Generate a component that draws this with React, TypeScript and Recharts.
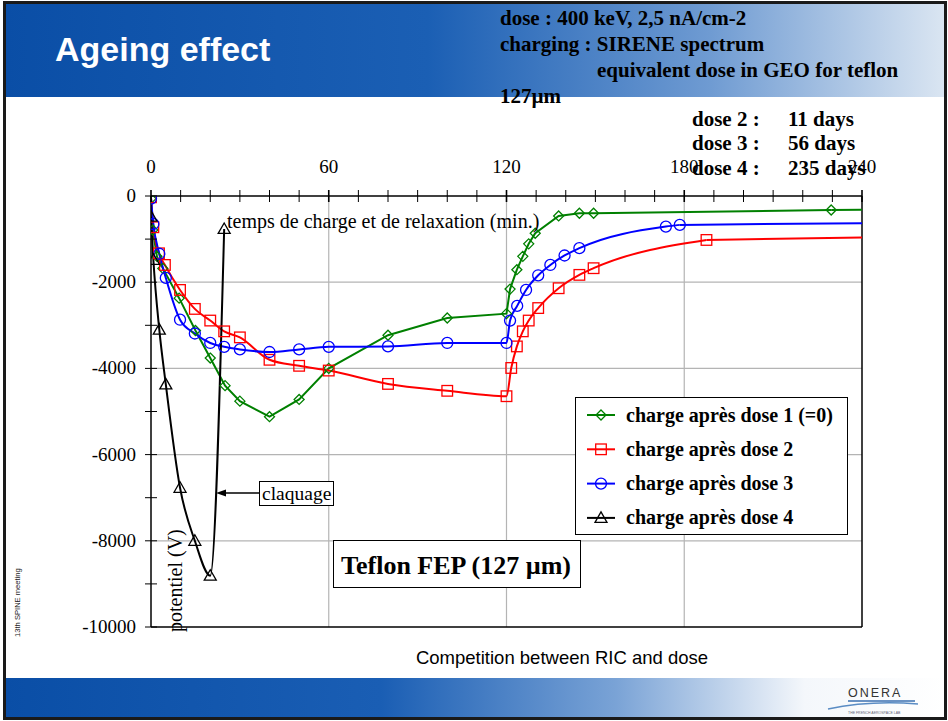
import React from 'react';
import { LineChart, Line, XAxis, YAxis, ReferenceLine, Legend } from 'recharts';

// time (min) and surface potential (V) for each irradiation dose
const dose1Time = [0, 0.6, 2, 4, 9.5, 15, 20, 25, 30, 40, 50, 60, 80, 100, 120, 121.2, 123.5, 125.5, 127.5, 129.7, 137.6, 144.6, 149.4, 229.6];
const dose1Volts = [-60, -790, -1400, -1680, -2370, -3120, -3760, -4400, -4760, -5120, -4720, -4000, -3230, -2830, -2730, -2160, -1710, -1400, -1110, -865, -463, -400, -400, -325];
const dose1TailTime = [229.6, 240];
const dose1TailVolts = [-325, -320];

const dose2Time = [0, 0.8, 2.7, 4.7, 9.8, 14.8, 20, 24.7, 30, 40, 50, 60, 80, 100, 120, 121.6, 123.5, 125.5, 127.5, 130.7, 137.6, 144.6, 149.4, 187.5];
const dose2Volts = [-30, -725, -1330, -1600, -2180, -2620, -2890, -3140, -3280, -3800, -3940, -4050, -4360, -4520, -4645, -3990, -3490, -3140, -2890, -2600, -2140, -1830, -1675, -1020];
const dose2TailTime = [187.5, 240];
const dose2TailVolts = [-1020, -965];

const dose3Time = [0, 0.8, 2.8, 5, 9.8, 14.8, 20, 24.7, 30, 40, 50, 60, 80, 100, 120, 121.2, 123.6, 126.6, 130.7, 134.8, 139.6, 144.6, 173.8, 178.5];
const dose3Volts = [-60, -650, -1340, -1900, -2870, -3190, -3410, -3500, -3560, -3620, -3560, -3500, -3490, -3410, -3410, -2890, -2550, -2180, -1840, -1600, -1380, -1210, -710, -670];
const dose3TailTime = [178.5, 240];
const dose3TailVolts = [-670, -630];

const dose4Time = [0, 0.8, 2.8, 5, 9.8, 14.8, 20, 24.7];
const dose4Volts = [-480, -1480, -3100, -4370, -6770, -8000, -8810, -765];

const seriesNames = [
  'charge après dose 1 (=0)',
  'charge après dose 2',
  'charge après dose 3',
  'charge après dose 4',
];

const timeTicks = [0, 10, 20, 30, 40, 50, 60, 70, 80, 90, 100, 110, 120, 130, 140, 150, 160, 170, 180, 190, 200, 210, 220, 230, 240];
const voltTicks = [0, -1000, -2000, -3000, -4000, -5000, -6000, -7000, -8000, -9000, -10000];
const gridTimes = [60, 120, 180];
const gridVolts = [-2000, -4000, -6000, -8000];

const toRows = (t: number[], v: number[]) => t.map((x, i) => ({ t: x, v: v[i] }));

const SERIF = '"Liberation Serif", "Times New Roman", serif';
const SANS = '"Liberation Sans", Arial, sans-serif';

const styles = [
  { color: '#008000', shape: 'diamond', curve: 'linear' },
  { color: '#ff0000', shape: 'square', curve: 'monotone' },
  { color: '#0000ff', shape: 'circle', curve: 'monotone' },
  { color: '#000000', shape: 'triangle', curve: 'monotone' },
];

function Marker({ cx, cy, color, shape }: { cx: number; cy: number; color: string; shape: string }) {
  const common = { fill: 'none', stroke: color, strokeWidth: 1.3 };
  if (shape === 'diamond') {
    const r = 5;
    return <polygon points={`${cx},${cy - r} ${cx + r},${cy} ${cx},${cy + r} ${cx - r},${cy}`} {...common} />;
  }
  if (shape === 'square') {
    const r = 5.3;
    return <rect x={cx - r} y={cy - r} width={r * 2} height={r * 2} {...common} />;
  }
  if (shape === 'circle') {
    return <circle cx={cx} cy={cy} r={5.5} {...common} />;
  }
  return <polygon points={`${cx},${cy - 6} ${cx + 6},${cy + 4.5} ${cx - 6},${cy + 4.5}`} {...common} />;
}

const dotFor = (i: number) => (p: any) => (
  <Marker key={`m-${i}-${p.index}`} cx={p.cx} cy={p.cy} color={styles[i].color} shape={styles[i].shape} />
);

const TopTick = ({ x, y, payload }: any) => {
  const major = payload.value % 60 === 0;
  return (
    <g>
      <line x1={x} x2={x} y1={y - 6} y2={y + 6} stroke="#000" strokeWidth={major ? 1.6 : 1} />
      {major && (
        <text x={x} y={y - 23} textAnchor="middle" fontFamily={SERIF} fontSize={19} fill="#000">
          {payload.value}
        </text>
      )}
    </g>
  );
};

const LeftTick = ({ x, y, payload }: any) => {
  const major = payload.value % 2000 === 0;
  return (
    <g>
      <line x1={x - 6} x2={x + 6} y1={y} y2={y} stroke="#000" strokeWidth={1} />
      {major && (
        <text x={x - 15} y={y + 6} textAnchor="end" fontFamily={SERIF} fontSize={19} fill="#000">
          {payload.value}
        </text>
      )}
    </g>
  );
};

const LegendBox = () => (
  <div
    style={{
      width: 273,
      height: 138,
      border: '1px solid #000',
      background: '#fff',
      boxSizing: 'border-box',
    }}
  >
    <svg width={271} height={136}>
      {seriesNames.map((name, i) => {
        const y = 17 + i * 34.3;
        return (
          <g key={name}>
            <line x1={11} x2={39} y1={y} y2={y} stroke={styles[i].color} strokeWidth={2} />
            <Marker cx={25} cy={y} color={styles[i].color} shape={styles[i].shape} />
            <text x={50} y={y + 6.5} fontFamily={SERIF} fontWeight="bold" fontSize={20} fill="#000">
              {name}
            </text>
          </g>
        );
      })}
    </svg>
  </div>
);

function SlideDecor() {
  return (
    <svg width={948} height={721} style={{ position: 'absolute', left: 0, top: 0, pointerEvents: 'none' }}>
      <defs>
        <linearGradient id="headBand" x1="0" y1="0" x2="1" y2="0">
          <stop offset="0%" stopColor="#0a4ea6" />
          <stop offset="45%" stopColor="#1b5fb4" />
          <stop offset="75%" stopColor="#6f9bd2" />
          <stop offset="100%" stopColor="#dbe6f2" />
        </linearGradient>
        <linearGradient id="footBand" x1="0" y1="0" x2="1" y2="0">
          <stop offset="0%" stopColor="#0a4ea6" />
          <stop offset="40%" stopColor="#1a5eb4" />
          <stop offset="65%" stopColor="#7aa3d6" />
          <stop offset="85%" stopColor="#f4f7fb" />
          <stop offset="100%" stopColor="#ffffff" />
        </linearGradient>
      </defs>
      <rect x={4} y={3} width={942} height={94} fill="url(#headBand)" />
      <rect x={4} y={678} width={942} height={40} fill="url(#footBand)" />
      <rect x={4.5} y={2.5} width={941} height={716} fill="none" stroke="#1a1a1a" strokeWidth={3} />

      <text x={55} y={61} fontFamily={SANS} fontWeight="bold" fontSize={34} fill="#fff">Ageing effect</text>
      <g fontFamily={SERIF} fontWeight="bold" fontSize={21} fill="#000">
        <text x={500} y={25}>dose : 400 keV, 2,5 nA/cm-2</text>
        <text x={500} y={51}>charging : SIRENE spectrum</text>
        <text x={597} y={77}>equivalent dose in GEO for teflon</text>
        <text x={500} y={103}>127µm</text>
        <text x={692} y={126}>dose 2 :</text>
        <text x={788} y={126}>11 days</text>
        <text x={692} y={150}>dose 3 :</text>
        <text x={788} y={150}>56 days</text>
        <text x={692} y={175}>dose 4 :</text>
        <text x={788} y={175}>235 days</text>
      </g>

      <text x={227} y={228} fontFamily={SERIF} fontSize={20} fill="#000">temps de charge et de relaxation (min.)</text>

      <rect x={259.5} y={481.5} width={74} height={24} fill="#fff" stroke="#000" strokeWidth={1} />
      <text x={262} y={500} fontFamily={SERIF} fontSize={19.5} fill="#000">claquage</text>
      <line x1={259} x2={224} y1={493} y2={493} stroke="#000" strokeWidth={1.5} />
      <polygon points="216,493 226,489.5 226,496.5" fill="#000" />

      <text
        x={0}
        y={0}
        transform="translate(182,632) rotate(-90)"
        fontFamily={SERIF}
        fontSize={20}
        fill="#000"
      >
        potentiel (V)
      </text>

      <rect x={333.5} y={540.5} width={247} height={47} fill="#fff" stroke="#000" strokeWidth={1} />
      <text x={341} y={574} fontFamily={SERIF} fontWeight="bold" fontSize={26} fill="#000">Teflon FEP (127 µm)</text>

      <text x={562} y={664} textAnchor="middle" fontFamily={SANS} fontSize={18.5} fill="#000">
        Competition between RIC and dose
      </text>
      <text x={0} y={0} transform="translate(20,637) rotate(-90)" fontFamily={SANS} fontSize={7.6} fill="#222">
        13th SPINE meeting
      </text>

      <text x={848} y={697} fontFamily={SANS} fontSize={12.5} letterSpacing={2} fill="#333">ONERA</text>
      <line x1={848} x2={915} y1={701} y2={701} stroke="#3a6fb0" strokeWidth={1.5} />
      <path d="M828,709 Q870,700 918,704" fill="none" stroke="#5a8cc4" strokeWidth={1.5} />
      <text x={848} y={714} fontFamily={SANS} fontSize={3.5} fill="#667">THE FRENCH AEROSPACE LAB</text>
    </svg>
  );
}

export default function App() {
  return (
    <div style={{ position: 'absolute', left: 0, top: 0, width: 948, height: 721, background: '#fff', overflow: 'hidden' }}>
      <LineChart width={948} height={721} margin={{ top: 166, right: 86, bottom: 94, left: 91 }}>
        <XAxis
          type="number"
          dataKey="t"
          orientation="top"
          domain={[0, 240]}
          ticks={timeTicks}
          height={30}
          tickSize={0}
          tickMargin={0}
          tick={<TopTick />}
          axisLine={{ stroke: '#000', strokeWidth: 1.5 }}
          allowDataOverflow
        />
        <YAxis
          type="number"
          dataKey="v"
          domain={[-10000, 0]}
          ticks={voltTicks}
          width={60}
          tickSize={0}
          tickMargin={0}
          tick={<LeftTick />}
          axisLine={{ stroke: '#000', strokeWidth: 1.5 }}
          allowDataOverflow
        />
        {gridTimes.map((t) => (
          <ReferenceLine key={`gx-${t}`} x={t} stroke="#b4b4b4" strokeWidth={1.2} />
        ))}
        {gridVolts.map((v) => (
          <ReferenceLine key={`gy-${v}`} y={v} stroke="#b4b4b4" strokeWidth={1.2} />
        ))}
        <ReferenceLine x={240} stroke="#000" strokeWidth={1.5} />
        <ReferenceLine y={-10000} stroke="#000" strokeWidth={1.5} />

        <Line data={toRows(dose1Time, dose1Volts)} dataKey="v" name={seriesNames[0]} type={styles[0].curve as any} stroke={styles[0].color} strokeWidth={2} dot={dotFor(0)} isAnimationActive={false} />
        <Line data={toRows(dose2Time, dose2Volts)} dataKey="v" name={seriesNames[1]} type={styles[1].curve as any} stroke={styles[1].color} strokeWidth={2} dot={dotFor(1)} isAnimationActive={false} />
        <Line data={toRows(dose3Time, dose3Volts)} dataKey="v" name={seriesNames[2]} type={styles[2].curve as any} stroke={styles[2].color} strokeWidth={2} dot={dotFor(2)} isAnimationActive={false} />
        <Line data={toRows(dose4Time, dose4Volts)} dataKey="v" name={seriesNames[3]} type={styles[3].curve as any} stroke={styles[3].color} strokeWidth={2} dot={dotFor(3)} isAnimationActive={false} />
        <Line data={toRows(dose1TailTime, dose1TailVolts)} dataKey="v" stroke={styles[0].color} strokeWidth={2} dot={false} legendType="none" isAnimationActive={false} />
        <Line data={toRows(dose2TailTime, dose2TailVolts)} dataKey="v" stroke={styles[1].color} strokeWidth={2} dot={false} legendType="none" isAnimationActive={false} />
        <Line data={toRows(dose3TailTime, dose3TailVolts)} dataKey="v" stroke={styles[2].color} strokeWidth={2} dot={false} legendType="none" isAnimationActive={false} />

        <Legend
          layout="vertical"
          align="center"
          verticalAlign="middle"
          wrapperStyle={{ left: 575, top: 397, width: 273 }}
          content={<LegendBox />}
        />
      </LineChart>
      <SlideDecor />
    </div>
  );
}
